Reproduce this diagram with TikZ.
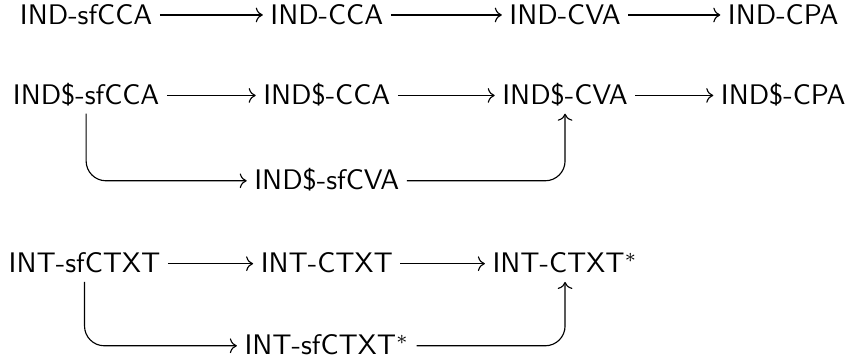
\documentclass[tikz,border=0pt]{standalone}
\usetikzlibrary{arrows.meta}
\begin{document}
\begin{tikzpicture}[
  every node/.style={font=\sffamily, anchor=base, text height=7pt, text depth=0.5pt, inner sep=2.5pt},
  imp/.style={-{Computer Modern Rightarrow}},
]
\useasboundingbox (0,0) rectangle (10.56,4.52);
% IND row
\node (indsfcca) at (1.07,4.22) {IND-sfCCA};
\node (indcca) at (4.06,4.22) {IND-CCA};
\node (indcva) at (7.02,4.22) {IND-CVA};
\node (indcpa) at (9.73,4.22) {IND-CPA};
\draw[imp] (indsfcca) -- (indcca);
\draw[imp] (indcca) -- (indcva);
\draw[imp] (indcva) -- (indcpa);
% IND$ rows
\node (rsfcca) at (1.07,3.22) {IND\$-sfCCA};
\node (rcca) at (4.06,3.22) {IND\$-CCA};
\node (rcva) at (7.02,3.22) {IND\$-CVA};
\node (rcpa) at (9.73,3.22) {IND\$-CPA};
\node (rsfcva) at (4.06,2.16) {IND\$-sfCVA};
\draw[imp] (rsfcca) -- (rcca);
\draw[imp] (rcca) -- (rcva);
\draw[imp] (rcva) -- (rcpa);
\draw[imp, rounded corners=7pt] (rsfcca) |- (rsfcva);
\draw[imp, rounded corners=7pt] (rsfcva) -| (rcva);
% INT rows
\node (intsf) at (1.05,1.13) {INT-sfCTXT};
\node (intc) at (4.06,1.13) {INT-CTXT};
\node (intcs) at (7.02,1.13) {INT-CTXT$^*$};
\node (intsfs) at (4.06,0.11) {INT-sfCTXT$^*$};
\draw[imp] (intsf) -- (intc);
\draw[imp] (intc) -- (intcs);
\draw[imp, rounded corners=7pt] (intsf) |- (intsfs);
\draw[imp, rounded corners=7pt] (intsfs) -| (intcs);
\end{tikzpicture}
\end{document}
